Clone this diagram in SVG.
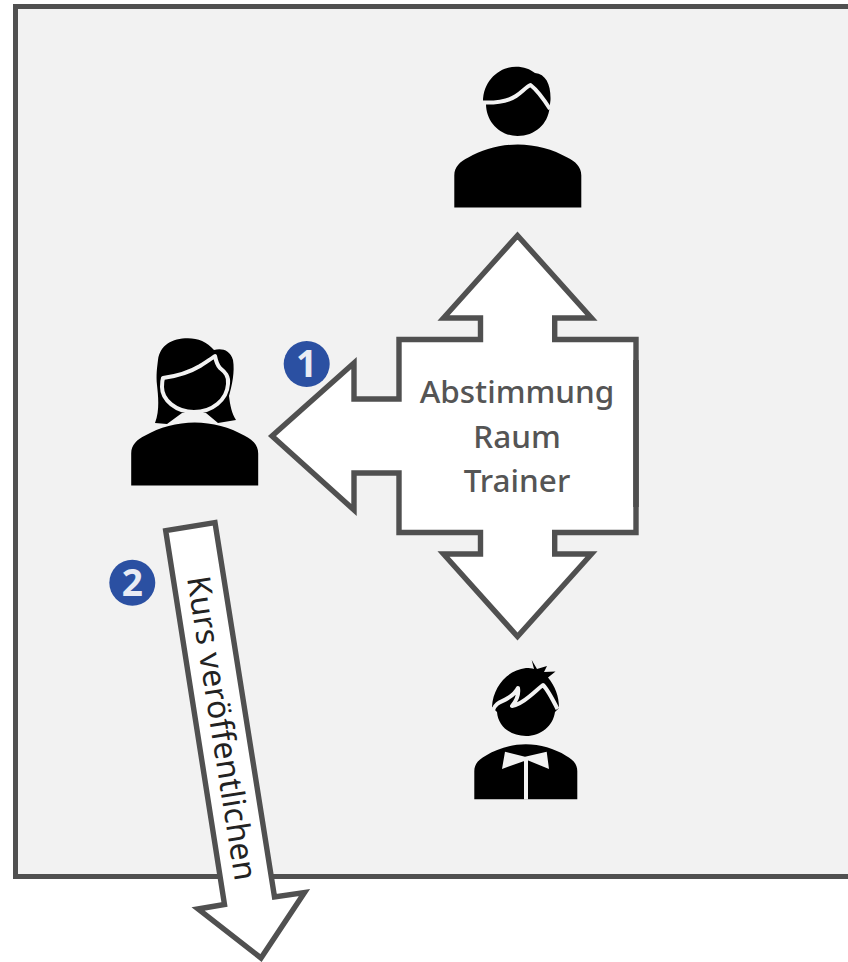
<svg xmlns="http://www.w3.org/2000/svg" width="848" height="962" viewBox="0 0 848 962">
<defs>
<style>
.box{fill:#fff;stroke:#505050;stroke-width:5.4;stroke-linejoin:miter;stroke-miterlimit:10}
.lab{font-family:"Noto Sans","Open Sans","Liberation Sans",sans-serif;text-anchor:middle}
.cut{fill:none;stroke:#f2f2f2;stroke-width:4;stroke-linecap:butt;stroke-linejoin:round}
.badge{fill:#2b50a2}
.num{font-family:"Noto Sans","Open Sans","Liberation Sans",sans-serif;font-weight:700;font-size:37px;fill:#e9ecf4;text-anchor:middle}
</style>
<path id="body" d="M0 63V31C0 22 6 17 14 13C28 5 46 0 63.5 0C81 0 99 5 113 13C121 17 127 22 127 31V63Z"/>
</defs>
<rect width="848" height="962" fill="#fff"/>
<rect id="frame" x="15.5" y="6.500" width="845" height="870" fill="#f2f2f2" stroke="#505050" stroke-width="5"/>
<g id="user-top">
<use href="#body" x="454.300" y="144.500"/>
<path d="M483 102C483 80 500 66.700 516 66.700C524 66.700 530 69 535 73C546 74 551 85 550.500 100L549.500 108C548 124 535 136 517.500 136C500 136 486 122 486 104Z"/>
<path class="cut" d="M482 102.500C495 103 507 102 516 96C522 92 526 87 530.500 85C537 90 543 98 550 109"/>
</g>
<g id="user-left">
<use href="#body" x="131.200" y="422.500"/>
<path d="M158 360C160 345 172 338.300 188 338.300C198 338.300 207 342 214 350C222 348 230 350 233 360C235 372 232 385 229 396C230 405 232 414 236 420L218 423L206 413H182L167 424L155 423C160 410 158 395 157 385C156 375 157 368 158 360Z"/>
<path d="M163 378C178 376 190 372 200 366C206 362 211 359 215 356C216 361 217 365 220 368C225 372 229 376 228 384C227 400 212 412 194 412C176 412 162 400 162 387C162 384 162 381 163 378Z" stroke="#f2f2f2" stroke-width="4" stroke-linejoin="round"/>
</g>
<g id="user-bottom">
<use href="#body" transform="translate(474.300 744.300) scale(.811 .873)"/>
<path fill="#f2f2f2" d="M505 751.700L525 756.700L546.700 751.700L549 769L527 760L502 769ZM524 760H528V799.500H524Z"/>
<path d="M492 707C493 686 508 670 526 668C529 668 532 668 534 669L531.700 660L537 669L547 666L544 672L555.500 671.500L548 677.500C555 686 559 696 559 708L555 712C553 726 541 736 526 736C510 736 498 726 497 712Z"/>
<path class="cut" d="M493 710C496 702 502 702 508 698C513 695 516 692 518 688C519 694 517 700 512 706C518 705 524 701 530 696C535 692 539 688 543 685C548 690 552 698 557.500 709"/>
</g>
<g id="connectors">
<g id="arrow-coordination">
<path class="box" d="M517.500 235.500L591.500 318H554.700V339.500H636V532.500H554.700V554H591.500L517.500 636.500L443.500 554H480.500V532.500H399V473H354V510L272 436L354 363V399H399V339.500H480.500V318H443.500Z"/>
<path d="M636 360V507" fill="none" stroke="#4d4d4d" stroke-width="5.500"/>
<g class="lab" font-size="31.500" font-weight="500" fill="#555">
<text x="517" y="403">Abstimmung</text>
<text x="517" y="448">Raum</text>
<text x="517" y="492">Trainer</text>
</g>
</g>
<g id="arrow-publish">
<path class="box" d="M165.700 530.700L215 522.700L274.500 897L304.500 892.500L261 958L198 909L224.500 904.500Z"/>
<text class="lab" transform="translate(211 730) rotate(81)" font-size="32" letter-spacing="0.2" fill="#222">Kurs veröffentlichen</text>
</g>
</g>
<g id="badge-1"><circle class="badge" cx="306.700" cy="364" r="23"/><text class="num" x="306.700" y="377">1</text></g>
<g id="badge-2"><circle class="badge" cx="132.300" cy="582.700" r="23"/><text class="num" x="132.300" y="596">2</text></g>
</svg>
